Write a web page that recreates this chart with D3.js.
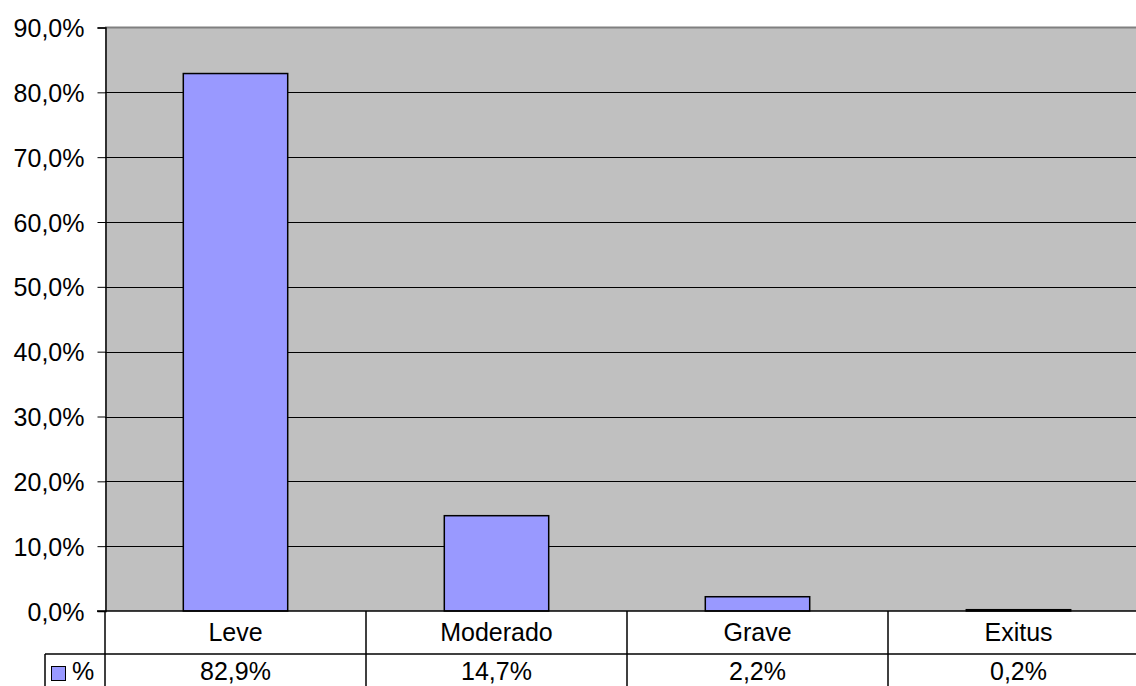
<!DOCTYPE html>
<html>
<head>
<meta charset="utf-8">
<script src="https://cdn.jsdelivr.net/npm/d3@7"></script>
<style>
  body { margin: 0; background: #fff; overflow: hidden; }
  text { font-family: Arial, "Liberation Sans", sans-serif; fill: #000; }
</style>
</head>
<body>
<div id="container"></div>
<script>
const WIDTH = 1136;
const HEIGHT = 686;
const PLOT = { LEFT: 105, RIGHT: 1149, TOP: 27.5, BOTTOM: 611 };
const ROW1 = 654;       // bottom of the category row
const LEGEND_LEFT = 45;
const FONT = 25;

const categories = ['Leve', 'Moderado', 'Grave', 'Exitus'];
const values = [82.9, 14.7, 2.2, 0.2];
const valueLabels = ['82,9%', '14,7%', '2,2%', '0,2%'];
const yTicks = [0, 10, 20, 30, 40, 50, 60, 70, 80, 90];
const seriesName = '%';

const data = categories.map((c, i) => ({ cat: c, value: values[i], label: valueLabels[i] }));

const ptBR = d3.formatLocale({ decimal: ',', thousands: '.', grouping: [3], currency: ['R$', ''] });
const fmt = ptBR.format('.1f');

const svg = d3.select('#container')
              .append('svg')
                .attr('width', WIDTH)
                .attr('height', HEIGHT)
                .style('display', 'block');

const xscale = d3.scaleBand()
                 .domain(categories)
                 .range([PLOT.LEFT, PLOT.RIGHT])
                 .padding(0);

const yscale = d3.scaleLinear()
                 .domain([0, 90])
                 .range([PLOT.BOTTOM, PLOT.TOP]);

// plot background
svg.append('rect')
     .attr('x', PLOT.LEFT)
     .attr('y', PLOT.TOP)
     .attr('width', PLOT.RIGHT - PLOT.LEFT)
     .attr('height', PLOT.BOTTOM - PLOT.TOP)
     .attr('fill', '#c0c0c0');

// top border
svg.append('line')
     .attr('x1', PLOT.LEFT)
     .attr('x2', PLOT.RIGHT)
     .attr('y1', PLOT.TOP)
     .attr('y2', PLOT.TOP)
     .attr('stroke', '#808080')
     .attr('stroke-width', 2);

// gridlines
svg.append('g')
   .selectAll('line')
   .data(yTicks.filter(d => d > 0 && d < 90))
   .enter()
   .append('line')
     .attr('x1', PLOT.LEFT)
     .attr('x2', PLOT.RIGHT)
     .attr('y1', d => Math.round(yscale(d)) + 0.5)
     .attr('y2', d => Math.round(yscale(d)) + 0.5)
     .attr('stroke', '#000')
     .attr('stroke-width', 1);

// bars
const barW = xscale.bandwidth() * 0.4;
svg.append('g')
   .selectAll('rect')
   .data(data)
   .enter()
   .append('rect')
     .attr('x', d => xscale(d.cat) + (xscale.bandwidth() - barW) / 2)
     .attr('y', d => yscale(d.value))
     .attr('width', barW)
     .attr('height', d => PLOT.BOTTOM - yscale(d.value))
     .attr('fill', '#9999ff')
     .attr('stroke', '#000')
     .attr('stroke-width', 1.5);

// y axis
const yAxis = svg.append('g')
                 .attr('transform', `translate(${PLOT.LEFT + 0.5}, 0)`)
                 .call(d3.axisLeft(yscale)
                         .tickValues(yTicks)
                         .tickSize(8)
                         .tickPadding(13)
                         .tickFormat(d => fmt(d) + '%'));
yAxis.select('.domain').attr('stroke', '#000').attr('stroke-width', 1.5);
yAxis.selectAll('.tick line').attr('stroke', '#000');
yAxis.selectAll('.tick text')
     .attr('font-size', FONT)
     .attr('font-family', 'Arial, "Liberation Sans", sans-serif')
     .attr('dy', '0.36em');

// data table
const table = svg.append('g').attr('stroke', '#000').attr('stroke-width', 1.5);

table.append('line')
     .attr('x1', PLOT.LEFT - 8).attr('x2', PLOT.RIGHT)
     .attr('y1', PLOT.BOTTOM).attr('y2', PLOT.BOTTOM);

table.append('line')
     .attr('x1', LEGEND_LEFT).attr('x2', PLOT.RIGHT)
     .attr('y1', ROW1).attr('y2', ROW1);

table.append('line')
     .attr('x1', LEGEND_LEFT).attr('x2', LEGEND_LEFT)
     .attr('y1', ROW1).attr('y2', HEIGHT);

table.selectAll('line.col')
     .data(categories)
     .enter()
     .append('line')
       .attr('class', 'col')
       .attr('x1', d => xscale(d))
       .attr('x2', d => xscale(d))
       .attr('y1', PLOT.BOTTOM)
       .attr('y2', HEIGHT);

svg.append('g')
   .selectAll('text')
   .data(data)
   .enter()
   .append('text')
     .attr('x', d => xscale(d.cat) + xscale.bandwidth() / 2)
     .attr('y', 641)
     .attr('text-anchor', 'middle')
     .attr('font-size', FONT)
     .text(d => d.cat);

// value row (kept just inside the bottom edge)
svg.append('g')
   .selectAll('text')
   .data(data)
   .enter()
   .append('text')
     .attr('x', d => xscale(d.cat) + xscale.bandwidth() / 2)
     .attr('y', 680)
     .attr('text-anchor', 'middle')
     .attr('font-size', FONT)
     .text(d => d.label);

// legend key
svg.append('rect')
     .attr('x', 51.5)
     .attr('y', 666.5)
     .attr('width', 14)
     .attr('height', 14)
     .attr('fill', '#9999ff')
     .attr('stroke', '#000')
     .attr('stroke-width', 1);

svg.append('text')
     .attr('x', 72)
     .attr('y', 680)
     .attr('font-size', FONT)
     .text(seriesName);
</script>
</body>
</html>
